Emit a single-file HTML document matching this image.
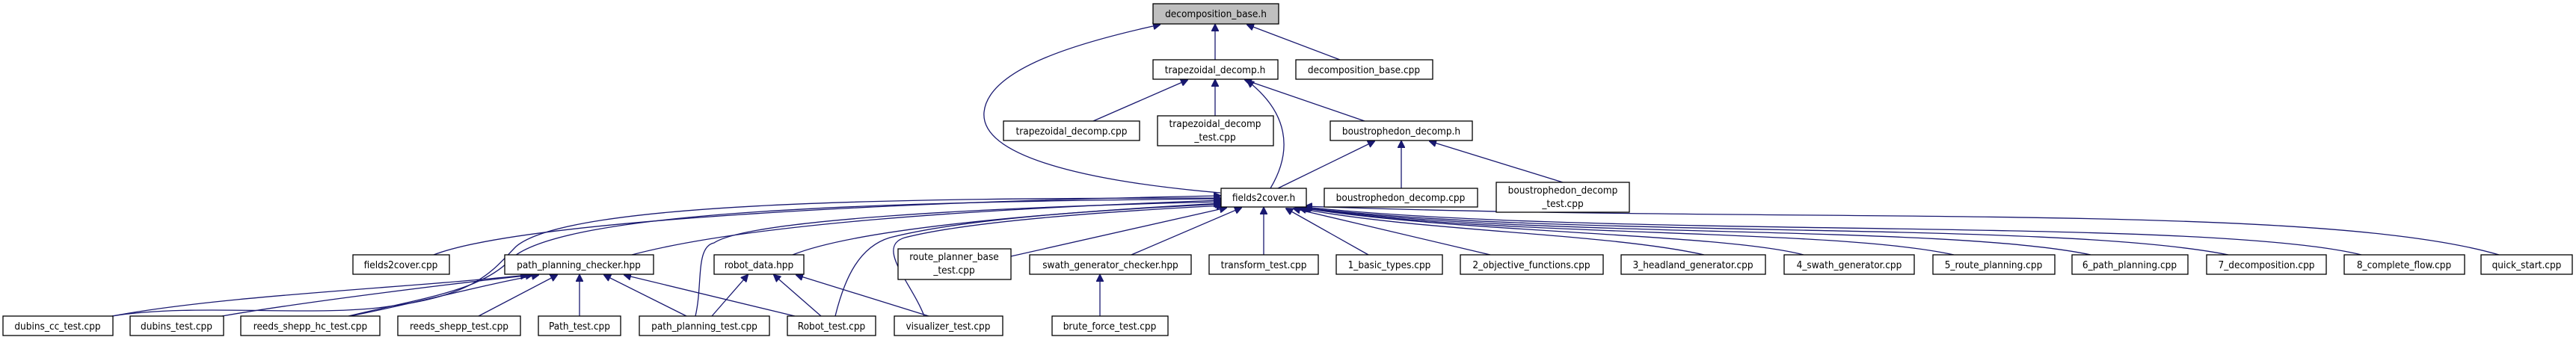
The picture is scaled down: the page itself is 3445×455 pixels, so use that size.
<!DOCTYPE html>
<html><head><meta charset="utf-8"><style>
html,body{margin:0;padding:0;background:#fff;}
svg{display:block}
text{font-family:"DejaVu Sans Condensed","DejaVu Sans","Liberation Sans",sans-serif;font-size:13.5px;fill:#000;text-anchor:middle}
rect{fill:#fff;stroke:#000;stroke-width:1.3}
path.e{fill:none;stroke:#191970;stroke-width:1.3}
</style></head><body>
<svg width="3445" height="455" viewBox="0 0 3445 455" xmlns="http://www.w3.org/2000/svg">
<defs><marker id="a" viewBox="0 0 10 10" refX="9" refY="5" markerWidth="10" markerHeight="10" markerUnits="userSpaceOnUse" orient="auto"><path d="M0,0 L10,5 L0,10 z" fill="#191970" stroke="#191970"/></marker></defs>
<g marker-end="url(#a)">
<path class="e" d="M1625,80 L1625,33"/>
<path class="e" d="M1792,80 L1668,33"/>
<path class="e" d="M1632,258 C1480,245 1310,215 1316,150 C1322,90 1450,55 1551,33"/>
<path class="e" d="M1462,162 L1588,107"/>
<path class="e" d="M1625,155 L1625,107"/>
<path class="e" d="M1825,162 L1665,107"/>
<path class="e" d="M1699,252 C1730,200 1722,150 1668,108"/>
<path class="e" d="M1709,252 L1838,189"/>
<path class="e" d="M1874,252 L1874,189"/>
<path class="e" d="M2090,244 L1912,189"/>
<path class="e" d="M580,341 C700,295 1200,270 1632,262"/>
<path class="e" d="M845,341 C1000,300 1300,280 1632,268"/>
<path class="e" d="M1060,341 C1150,305 1400,285 1632,272"/>
<path class="e" d="M1352,343 L1640,278"/>
<path class="e" d="M1513,341 L1660,278"/>
<path class="e" d="M1690,341 L1690,278"/>
<path class="e" d="M1830,341 L1720,279"/>
<path class="e" d="M1993,341 L1730,279"/>
<path class="e" d="M2279,341 C2150,312 1900,310 1738,279"/>
<path class="e" d="M2412,341 C2300,312 1950,312 1740,278"/>
<path class="e" d="M2613,341 C2450,305 2000,318 1742,278"/>
<path class="e" d="M2796,341 C2600,300 2050,320 1743,278"/>
<path class="e" d="M2980,341 C2750,295 2100,320 1744,278"/>
<path class="e" d="M3158,341 C2950,290 2150,320 1745,277"/>
<path class="e" d="M3342,341 C3100,270 2400,300 1746,276"/>
<path class="e" d="M150,423 C260,405 420,425 520,410 C640,395 660,360 690,330 C760,270 1200,265 1632,265"/>
<path class="e" d="M466,423 C560,400 640,390 680,350 C740,280 1200,270 1632,266"/>
<path class="e" d="M930,423 C940,380 930,330 955,325 C1000,295 1300,278 1632,270"/>
<path class="e" d="M1117,423 C1130,370 1150,330 1190,318 C1300,290 1500,280 1634,273"/>
<path class="e" d="M1236,423 C1220,380 1170,330 1210,318 C1300,295 1500,282 1636,275"/>
<path class="e" d="M150,423 C300,395 550,385 705,368"/>
<path class="e" d="M297,423 C400,405 600,380 712,368"/>
<path class="e" d="M468,423 C560,405 650,380 720,368"/>
<path class="e" d="M640,423 L745,368"/>
<path class="e" d="M775,423 L775,368"/>
<path class="e" d="M918,423 L808,368"/>
<path class="e" d="M1063,423 L835,368"/>
<path class="e" d="M952,423 L1000,368"/>
<path class="e" d="M1098,423 L1035,368"/>
<path class="e" d="M1242,423 L1065,368"/>
<path class="e" d="M1471,423 L1471,368"/>
</g>
<rect x="1542" y="5" width="168" height="27" style="fill:#bfbfbf"/><text x="1626" y="23">decomposition_base.h</text>
<rect x="1542" y="80" width="167" height="26"/><text x="1625" y="98">trapezoidal_decomp.h</text>
<rect x="1733" y="80" width="183" height="26"/><text x="1824" y="98">decomposition_base.cpp</text>
<rect x="1342" y="162" width="182" height="26"/><text x="1433" y="180">trapezoidal_decomp.cpp</text>
<rect x="1548" y="155" width="155" height="40"/><text x="1625" y="170">trapezoidal_decomp</text><text x="1625" y="188">_test.cpp</text>
<rect x="1779" y="162" width="190" height="26"/><text x="1874" y="180">boustrophedon_decomp.h</text>
<rect x="1633" y="252" width="114" height="25"/><text x="1690" y="269">fields2cover.h</text>
<rect x="1771" y="252" width="205" height="25"/><text x="1873" y="269">boustrophedon_decomp.cpp</text>
<rect x="2001" y="244" width="178" height="40"/><text x="2090" y="259">boustrophedon_decomp</text><text x="2090" y="277">_test.cpp</text>
<rect x="472" y="341" width="129" height="26"/><text x="536" y="359">fields2cover.cpp</text>
<rect x="675" y="341" width="199" height="26"/><text x="774" y="359">path_planning_checker.hpp</text>
<rect x="955" y="341" width="120" height="26"/><text x="1015" y="359">robot_data.hpp</text>
<rect x="1201" y="333" width="151" height="41"/><text x="1276" y="348">route_planner_base</text><text x="1276" y="366">_test.cpp</text>
<rect x="1377" y="341" width="216" height="26"/><text x="1485" y="359">swath_generator_checker.hpp</text>
<rect x="1617" y="341" width="146" height="26"/><text x="1690" y="359">transform_test.cpp</text>
<rect x="1787" y="341" width="142" height="26"/><text x="1858" y="359">1_basic_types.cpp</text>
<rect x="1953" y="341" width="191" height="26"/><text x="2048" y="359">2_objective_functions.cpp</text>
<rect x="2168" y="341" width="193" height="26"/><text x="2264" y="359">3_headland_generator.cpp</text>
<rect x="2386" y="341" width="174" height="26"/><text x="2473" y="359">4_swath_generator.cpp</text>
<rect x="2585" y="341" width="163" height="26"/><text x="2666" y="359">5_route_planning.cpp</text>
<rect x="2771" y="341" width="155" height="26"/><text x="2848" y="359">6_path_planning.cpp</text>
<rect x="2951" y="341" width="160" height="26"/><text x="3031" y="359">7_decomposition.cpp</text>
<rect x="3135" y="341" width="161" height="26"/><text x="3215" y="359">8_complete_flow.cpp</text>
<rect x="3318" y="341" width="122" height="26"/><text x="3379" y="359">quick_start.cpp</text>
<rect x="4" y="423" width="147" height="26"/><text x="77" y="441">dubins_cc_test.cpp</text>
<rect x="174" y="423" width="125" height="26"/><text x="236" y="441">dubins_test.cpp</text>
<rect x="322" y="423" width="186" height="26"/><text x="415" y="441">reeds_shepp_hc_test.cpp</text>
<rect x="532" y="423" width="164" height="26"/><text x="614" y="441">reeds_shepp_test.cpp</text>
<rect x="720" y="423" width="110" height="26"/><text x="775" y="441">Path_test.cpp</text>
<rect x="855" y="423" width="174" height="26"/><text x="942" y="441">path_planning_test.cpp</text>
<rect x="1053" y="423" width="118" height="26"/><text x="1112" y="441">Robot_test.cpp</text>
<rect x="1196" y="423" width="145" height="26"/><text x="1268" y="441">visualizer_test.cpp</text>
<rect x="1407" y="423" width="155" height="26"/><text x="1484" y="441">brute_force_test.cpp</text>
</svg>
</body></html>
